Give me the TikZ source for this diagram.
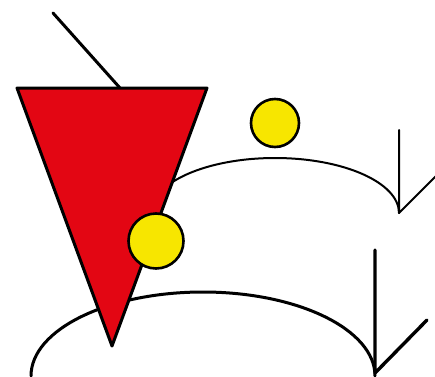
\documentclass[tikz,border=0pt]{standalone}
\usepackage{tikz}
\definecolor{wedgered}{HTML}{E30613}
\definecolor{ballyellow}{HTML}{F7E600}
\tikzset{stroke/.style={line width=3pt,black,line cap=round,line join=round},
         thin stroke/.style={line width=2pt,black,line cap=round,line join=round},
         ball/.style={circle,draw=black,line width=2.6pt,fill=ballyellow,inner sep=0pt}}
\begin{document}
\begin{tikzpicture}[x=1pt,y=1pt]
  \useasboundingbox (0,0) rectangle (435,376);
  % handle on top
  \draw[stroke] (53,363)--(120,288);
  % upper path and its arrow
  \draw[thin stroke] (151,163) arc[start angle=180,end angle=0,x radius=124,y radius=55];
  \coordinate (uptip) at (399,163);
  \draw[thin stroke] (399,246)--(uptip)--(437,201);
  % lower path and its arrow
  \draw[stroke] (31,0) arc[start angle=180,end angle=0,x radius=172,y radius=84];
  \coordinate (lowtip) at (375,3);
  \draw[stroke,line width=3.4pt] (375,126)--(lowtip)--(427,56);
  % the red wedge
  \draw[stroke,fill=wedgered] (17,288)--(207,288)--(112,30)--cycle;
  % the two balls
  \node[ball,minimum size=48pt] (ballup) at (275,253) {};
  \node[ball,minimum size=55pt] (balllow) at (156,135) {};
\end{tikzpicture}
\end{document}
